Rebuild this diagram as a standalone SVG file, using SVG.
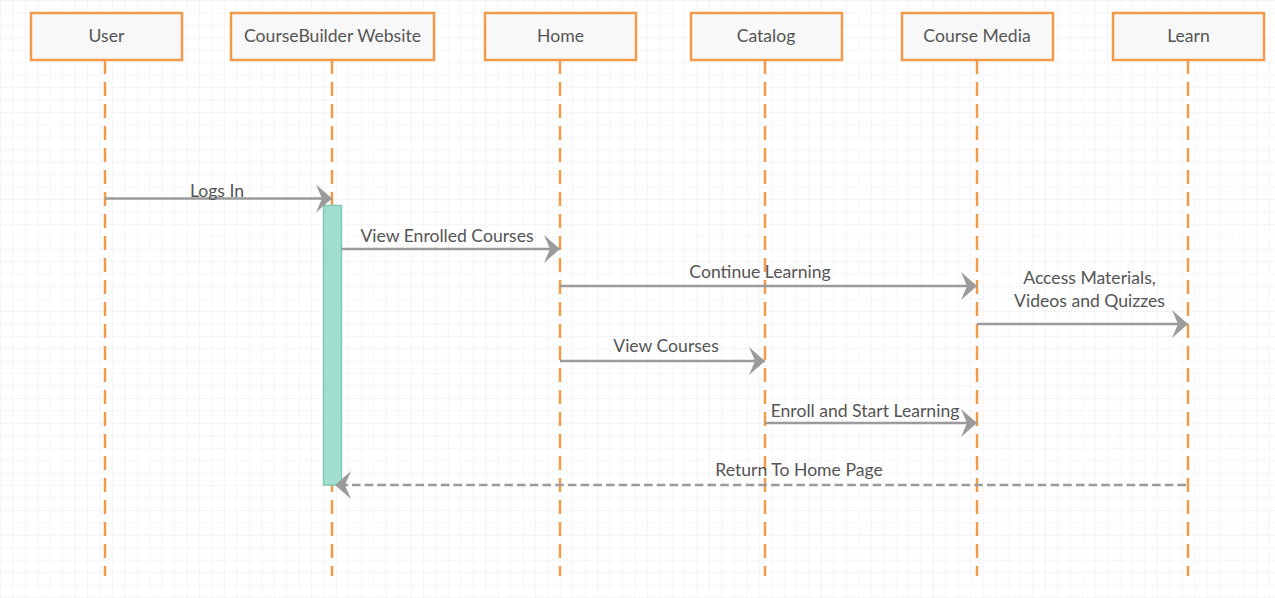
<svg xmlns="http://www.w3.org/2000/svg" width="1275" height="598" viewBox="0 0 1275 598">
<defs>
<pattern id="grid" x="0" y="0" width="12.44" height="12.44" patternUnits="userSpaceOnUse">
<path d="M 12.44 0 L 0 0 L 0 12.44" fill="none" stroke="#ececec" stroke-width="1"/>
</pattern>
<marker id="arr" markerUnits="userSpaceOnUse" markerWidth="40" markerHeight="40" refX="0" refY="0" orient="auto" viewBox="-20 -20 40 40" overflow="visible">
<path d="M 0 0 L -16 -14 L -10 0 L -16 14 Z" fill="#9b9b9b"/>
</marker>
<style>
.box{fill:#f8f8f8;stroke:#f09a4a;stroke-width:2.5}
.life{stroke:#f09a4a;stroke-width:2.5;stroke-dasharray:14 8;fill:none}
.lbl{font-family:Lato,"Liberation Sans",sans-serif;font-size:17.6px;fill:#555555;text-anchor:middle}
.msg{stroke:#9b9b9b;stroke-width:2.5;fill:none;marker-end:url(#arr)}
.ret{stroke:#9b9b9b;stroke-width:2.5;fill:none;stroke-dasharray:8.5 4.2;marker-end:url(#arr)}
.act{fill:#a0dfcf;stroke:#7fcab4;stroke-width:1.5}
</style>
</defs>
<rect width="1275" height="598" fill="#ffffff"/>
<rect width="1275" height="598" fill="url(#grid)"/>

<g id="lifelines">
<line class="life" x1="105" y1="60" x2="105" y2="576"/>
<line class="life" x1="332" y1="60" x2="332" y2="576"/>
<line class="life" x1="560" y1="60" x2="560" y2="576"/>
<line class="life" x1="765" y1="60" x2="765" y2="576"/>
<line class="life" x1="977" y1="60" x2="977" y2="576"/>
<line class="life" x1="1188" y1="60" x2="1188" y2="576"/>
</g>

<g id="node-user">
<rect class="box" x="31" y="13" width="151" height="47"/>
<text class="lbl" x="106.5" y="42">User</text>
</g>
<g id="node-coursebuilder">
<rect class="box" x="231" y="13" width="203" height="47"/>
<text class="lbl" x="332.5" y="42">CourseBuilder Website</text>
</g>
<g id="node-home">
<rect class="box" x="485" y="13" width="151" height="47"/>
<text class="lbl" x="560.5" y="42">Home</text>
</g>
<g id="node-catalog">
<rect class="box" x="691" y="13" width="151" height="47"/>
<text class="lbl" x="766" y="42">Catalog</text>
</g>
<g id="node-coursemedia">
<rect class="box" x="902" y="13" width="151" height="47"/>
<text class="lbl" x="977" y="42">Course Media</text>
</g>
<g id="node-learn">
<rect class="box" x="1113" y="13" width="151" height="47"/>
<text class="lbl" x="1188.5" y="42">Learn</text>
</g>

<g id="activation">
<rect class="act" x="323.5" y="205.5" width="18" height="279.5"/>
</g>

<g id="connectors">
<line class="msg" x1="105" y1="198.5" x2="332" y2="198.5"/>
<text class="lbl" x="217" y="197">Logs In</text>
<line class="msg" x1="341.5" y1="249" x2="560" y2="249"/>
<text class="lbl" x="447" y="242">View Enrolled Courses</text>
<line class="msg" x1="560" y1="286" x2="977" y2="286"/>
<text class="lbl" x="760" y="278">Continue Learning</text>
<line class="msg" x1="977" y1="324" x2="1188" y2="324"/>
<text class="lbl" x="1089.5" y="284">Access Materials,</text>
<text class="lbl" x="1089.5" y="307">Videos and Quizzes</text>
<line class="msg" x1="560" y1="361" x2="765" y2="361"/>
<text class="lbl" x="666" y="352">View Courses</text>
<line class="msg" x1="765" y1="423" x2="977" y2="423"/>
<text class="lbl" x="865" y="417">Enroll and Start Learning</text>
<line class="ret" x1="1186" y1="485" x2="335" y2="485"/>
<text class="lbl" x="799" y="476">Return To Home Page</text>
</g>
</svg>
